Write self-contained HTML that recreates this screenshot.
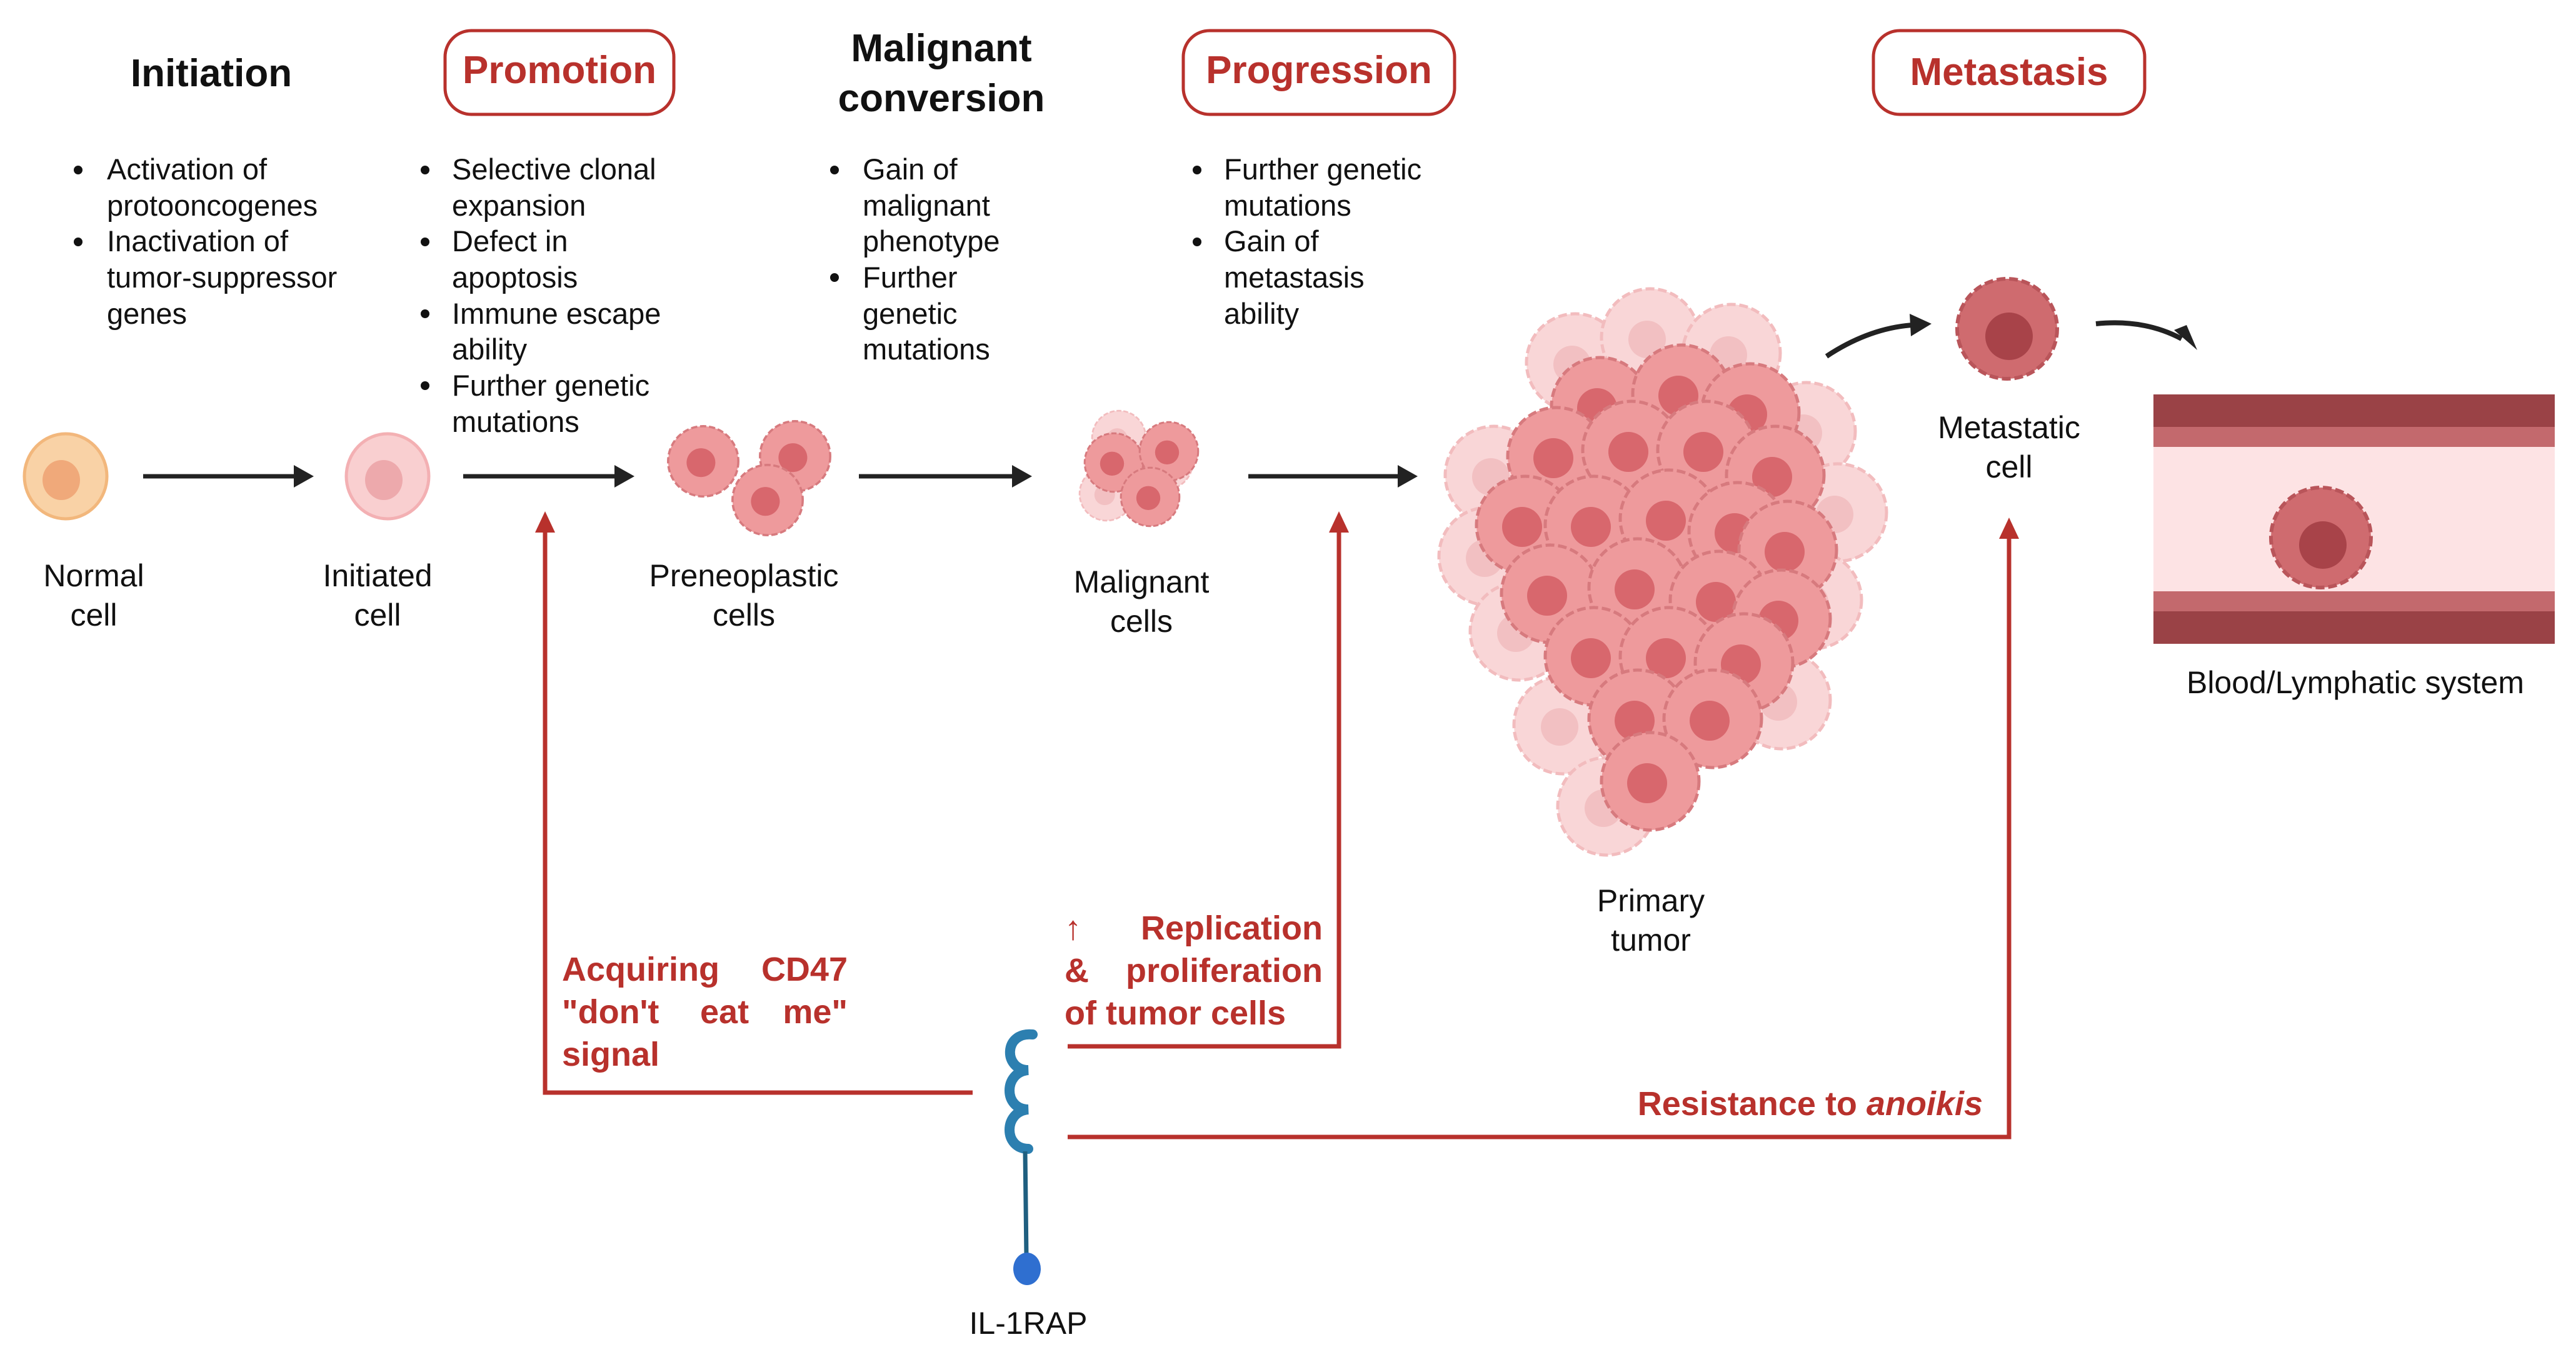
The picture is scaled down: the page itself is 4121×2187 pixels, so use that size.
<!DOCTYPE html>
<html><head><meta charset="utf-8"><style>
html,body{margin:0;padding:0;background:#fff}
svg{display:block}
text{font-family:"Liberation Sans",sans-serif}
.h{font-weight:bold;font-size:62px;fill:#111;text-anchor:middle}
.hr{font-weight:bold;font-size:62px;fill:#b8312c;text-anchor:middle}
.b{font-size:47px;fill:#111}
.l{font-size:50px;fill:#111;text-anchor:middle}
.r{font-weight:bold;font-size:54px;fill:#b8312c}
</style></head><body>
<svg width="4121" height="2187" viewBox="0 0 4121 2187" xmlns="http://www.w3.org/2000/svg">
<defs>
<g id="cell"><circle r="78" fill="#ee9a9c" stroke="#d77a7e" stroke-width="5" stroke-dasharray="14 6"/><circle cx="-5" cy="3" r="32" fill="#d8676d"/></g>
<g id="cellf"><circle r="78" fill="#f9d6d7" stroke="#f2bcbe" stroke-width="5" stroke-dasharray="14 6"/><circle cx="-5" cy="3" r="30" fill="#f2c0c2"/></g>
<g id="mcell"><circle r="80" fill="#cf6b6f" stroke="#b9555a" stroke-width="6" stroke-dasharray="14 6"/><circle cx="3" cy="12" r="38" fill="#a84349"/></g>
</defs>

<!-- Headings -->
<text class="h" x="338" y="138">Initiation</text>
<rect x="712" y="49" width="366" height="134" rx="42" fill="none" stroke="#b8312c" stroke-width="5"/>
<text class="hr" x="895" y="133">Promotion</text>
<text class="h" x="1506" y="98">Malignant</text>
<text class="h" x="1506" y="178">conversion</text>
<rect x="1893" y="49" width="434" height="134" rx="42" fill="none" stroke="#b8312c" stroke-width="5"/>
<text class="hr" x="2110" y="133">Progression</text>
<rect x="2997" y="49" width="434" height="134" rx="42" fill="none" stroke="#b8312c" stroke-width="5"/>
<text class="hr" x="3214" y="136">Metastasis</text>

<!-- Bullets -->
<g class="b">
<circle cx="125" cy="272" r="7" fill="#111"/><circle cx="125" cy="387" r="7" fill="#111"/>
<text x="171" y="287">Activation of</text><text x="171" y="345">protooncogenes</text>
<text x="171" y="402">Inactivation of</text><text x="171" y="460">tumor-suppressor</text><text x="171" y="518">genes</text>

<circle cx="680" cy="272" r="7" fill="#111"/><circle cx="680" cy="387" r="7" fill="#111"/><circle cx="680" cy="502" r="7" fill="#111"/><circle cx="680" cy="617" r="7" fill="#111"/>
<text x="723" y="287">Selective clonal</text><text x="723" y="345">expansion</text>
<text x="723" y="402">Defect in</text><text x="723" y="460">apoptosis</text>
<text x="723" y="518">Immune escape</text><text x="723" y="575">ability</text>
<text x="723" y="633">Further genetic</text><text x="723" y="691">mutations</text>

<circle cx="1335" cy="272" r="7" fill="#111"/><circle cx="1335" cy="444" r="7" fill="#111"/>
<text x="1380" y="287">Gain of</text><text x="1380" y="345">malignant</text><text x="1380" y="402">phenotype</text>
<text x="1380" y="460">Further</text><text x="1380" y="518">genetic</text><text x="1380" y="575">mutations</text>

<circle cx="1915" cy="272" r="7" fill="#111"/><circle cx="1915" cy="387" r="7" fill="#111"/>
<text x="1958" y="287">Further genetic</text><text x="1958" y="345">mutations</text>
<text x="1958" y="402">Gain of</text><text x="1958" y="460">metastasis</text><text x="1958" y="518">ability</text>
</g>

<!-- Main arrows -->
<g stroke="#222" stroke-width="7">
<line x1="229" y1="762" x2="475" y2="762"/>
<line x1="741" y1="762" x2="988" y2="762"/>
<line x1="1374" y1="762" x2="1624" y2="762"/>
<line x1="1997" y1="762" x2="2241" y2="762"/>
</g>
<g fill="#222">
<path d="M470,744 L502,762 L470,780z"/>
<path d="M983,744 L1015,762 L983,780z"/>
<path d="M1619,744 L1651,762 L1619,780z"/>
<path d="M2236,744 L2268,762 L2236,780z"/>
</g>

<!-- Normal & initiated cells -->
<ellipse cx="105" cy="762" rx="66" ry="68" fill="#f9d2a6" stroke="#f2b77c" stroke-width="5"/>
<ellipse cx="98" cy="768" rx="30" ry="32" fill="#f0a97a"/>
<ellipse cx="620" cy="762" rx="66" ry="68" fill="#f9cfd0" stroke="#f3b0b3" stroke-width="5"/>
<ellipse cx="614" cy="768" rx="30" ry="32" fill="#eda9ac"/>

<!-- Preneoplastic -->
<g transform="translate(1125,738) scale(0.72)"><use href="#cell"/></g>
<g transform="translate(1272,730) scale(0.72)"><use href="#cell"/></g>
<g transform="translate(1228,800) scale(0.72)"><use href="#cell"/></g>

<!-- Malignant cells -->
<g transform="translate(1790,700) scale(0.55)"><use href="#cellf"/></g>
<g transform="translate(1865,740) scale(0.55)"><use href="#cellf"/></g>
<g transform="translate(1770,790) scale(0.55)"><use href="#cellf"/></g>
<g transform="translate(1782,740) scale(0.6)"><use href="#cell"/></g>
<g transform="translate(1870,722) scale(0.6)"><use href="#cell"/></g>
<g transform="translate(1840,795) scale(0.6)"><use href="#cell"/></g>

<!-- Primary tumor -->
<g>
<use href="#cellf" x="2520" y="580"/><use href="#cellf" x="2640" y="540"/><use href="#cellf" x="2770" y="565"/>
<use href="#cellf" x="2390" y="760"/><use href="#cellf" x="2380" y="890"/><use href="#cellf" x="2430" y="1010"/>
<use href="#cellf" x="2890" y="690"/><use href="#cellf" x="2940" y="820"/><use href="#cellf" x="2900" y="960"/>
<use href="#cellf" x="2500" y="1160"/><use href="#cellf" x="2570" y="1290"/><use href="#cellf" x="2850" y="1120"/>
<use href="#cell" x="2560" y="650"/><use href="#cell" x="2690" y="630"/><use href="#cell" x="2800" y="660"/>
<use href="#cell" x="2490" y="730"/><use href="#cell" x="2610" y="720"/><use href="#cell" x="2730" y="720"/><use href="#cell" x="2840" y="760"/>
<use href="#cell" x="2440" y="840"/><use href="#cell" x="2550" y="840"/><use href="#cell" x="2670" y="830"/><use href="#cell" x="2780" y="850"/><use href="#cell" x="2860" y="880"/>
<use href="#cell" x="2480" y="950"/><use href="#cell" x="2620" y="940"/><use href="#cell" x="2750" y="960"/><use href="#cell" x="2850" y="990"/>
<use href="#cell" x="2550" y="1050"/><use href="#cell" x="2670" y="1050"/><use href="#cell" x="2790" y="1060"/>
<use href="#cell" x="2620" y="1150"/><use href="#cell" x="2740" y="1150"/>
<use href="#cell" x="2640" y="1250"/>
</g>

<!-- Metastatic cell & curved arrows -->
<g transform="translate(3211,526)"><use href="#mcell"/></g>
<path d="M2922,570 Q2990,525 3060,520" fill="none" stroke="#222" stroke-width="8"/>
<path d="M3055,502 L3090,518 L3057,538z" fill="#222"/>
<path d="M3353,518 Q3430,510 3490,542" fill="none" stroke="#222" stroke-width="8"/>
<path d="M3478,528 L3515,560 L3498,520z" fill="#222"/>

<!-- Vessel -->
<rect x="3445" y="631" width="642" height="399" fill="#fde3e4"/>
<rect x="3445" y="631" width="642" height="52" fill="#9a4246"/>
<rect x="3445" y="683" width="642" height="32" fill="#c3696d"/>
<rect x="3445" y="946" width="642" height="32" fill="#c3696d"/>
<rect x="3445" y="978" width="642" height="52" fill="#9a4246"/>
<g transform="translate(3713,860)"><use href="#mcell"/></g>

<!-- Labels -->
<g class="l">
<text x="150" y="938">Normal</text><text x="150" y="1001">cell</text>
<text x="604" y="938">Initiated</text><text x="604" y="1001">cell</text>
<text x="1190" y="938">Preneoplastic</text><text x="1190" y="1001">cells</text>
<text x="1826" y="948">Malignant</text><text x="1826" y="1011">cells</text>
<text x="3214" y="701">Metastatic</text><text x="3214" y="764">cell</text>
<text x="2641" y="1458">Primary</text><text x="2641" y="1521">tumor</text>
<text x="3768" y="1109">Blood/Lymphatic system</text>
<text x="1645" y="2134">IL-1RAP</text>
</g>

<!-- Red connectors -->
<g fill="none" stroke="#b8312c" stroke-width="7">
<polyline points="1556,1748 872,1748 872,845"/>
<polyline points="1708,1674 2142,1674 2142,845"/>
<polyline points="1708,1819 3214,1819 3214,855"/>
</g>
<g fill="#b8312c">
<path d="M872,818 L856,852 L888,852z"/>
<path d="M2142,818 L2126,852 L2158,852z"/>
<path d="M3214,828 L3198,862 L3230,862z"/>
</g>

<!-- Red text -->
<g class="r">
<text x="899" y="1569">Acquiring</text><text x="1356" y="1569" text-anchor="end">CD47</text>
<text x="899" y="1637">"don't</text><text x="1120" y="1637">eat</text><text x="1356" y="1637" text-anchor="end">me"</text>
<text x="899" y="1705">signal</text>
<text x="1703" y="1503">↑</text><text x="2116" y="1503" text-anchor="end">Replication</text>
<text x="1703" y="1571">&amp;</text><text x="2116" y="1571" text-anchor="end">proliferation</text>
<text x="1703" y="1639">of tumor cells</text>
<text x="3172" y="1784" text-anchor="end">Resistance to <tspan font-style="italic">anoikis</tspan></text>
</g>

<!-- IL-1RAP receptor -->
<g fill="none" stroke="#2c7fb0" stroke-width="16" stroke-linecap="round">
<path d="M1652,1655 C1605,1650 1605,1712 1645,1712 C1605,1715 1605,1775 1645,1775 C1605,1778 1605,1838 1645,1838"/>
</g>
<line x1="1640" y1="1842" x2="1642" y2="2010" stroke="#1f5f80" stroke-width="7"/>
<ellipse cx="1643" cy="2030" rx="22" ry="26" fill="#2f6fd0"/>
</svg>
</body></html>
